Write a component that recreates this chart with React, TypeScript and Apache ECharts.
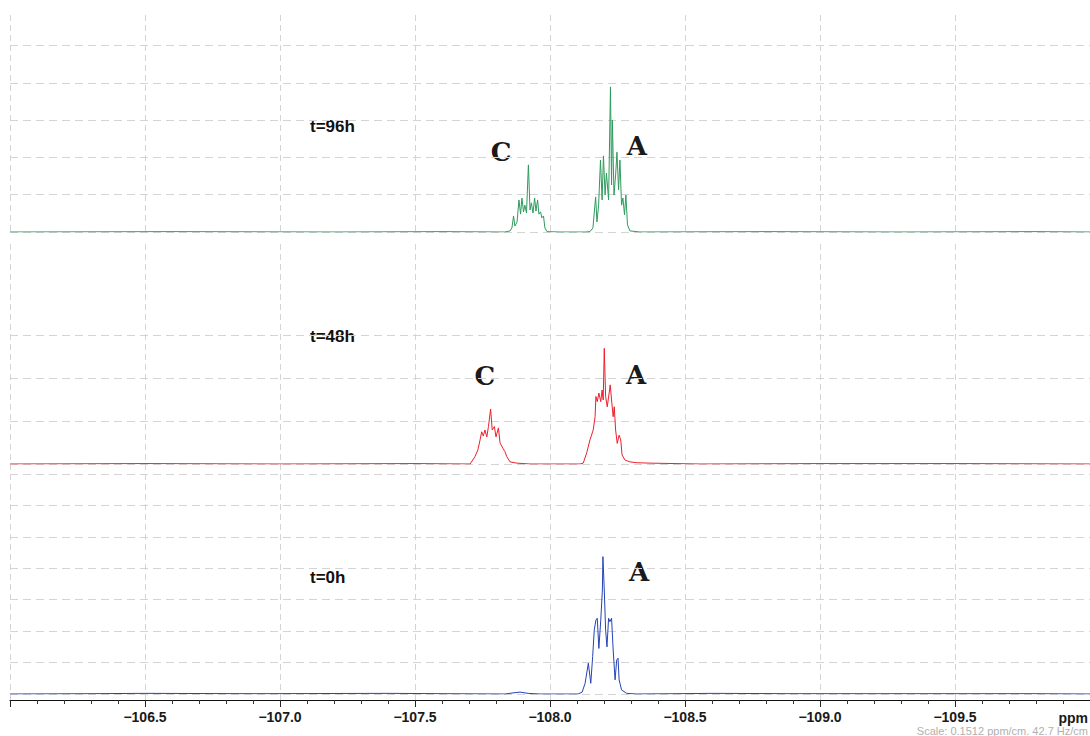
import React, { useEffect, useRef } from "react";
import * as echarts from "echarts";

// ppm range and tick settings
const PPM_LEFT = -106.0;
const PPM_RIGHT = -110.0;
const MAJOR_STEP = 0.5;

// Spectrum labels
const panelLabels = ["t=96h", "t=48h", "t=0h"];
const scaleNote = "Scale: 0.1512 ppm/cm. 42.7 Hz/cm";

// t=96h (green) : [ppm, intensity]
const green96: [number, number][] = [
  [-106.0, 0], [-106.6, 0.01], [-107.2, 0], [-107.6, 0.01], [-107.833, 0],
  [-107.852, 0.03], [-107.859, 0.11], [-107.865, 0.43], [-107.87, 0.16], [-107.878, 0.27],
  [-107.885, 0.86], [-107.891, 0.48], [-107.896, 0.91], [-107.902, 0.54], [-107.907, 0.72],
  [-107.913, 0.51], [-107.92, 1.8], [-107.926, 0.59], [-107.931, 0.78], [-107.937, 0.51],
  [-107.943, 0.91], [-107.948, 0.56], [-107.954, 0.86], [-107.959, 0.48], [-107.965, 0.54],
  [-107.97, 0.38], [-107.976, 0.43], [-107.981, 0.11], [-107.989, 0.01], [-108.037, 0],
  [-108.13, 0], [-108.148, 0.01], [-108.159, 0.11], [-108.169, 0.94], [-108.174, 0.27],
  [-108.18, 0.72], [-108.187, 1.93], [-108.193, 0.86], [-108.198, 2.04], [-108.204, 0.99],
  [-108.209, 1.58], [-108.217, 0.86], [-108.224, 3.89], [-108.228, 1.26], [-108.231, 3.0],
  [-108.237, 0.99], [-108.243, 1.53], [-108.248, 2.14], [-108.254, 1.13], [-108.259, 1.93],
  [-108.265, 0.72], [-108.27, 0.91], [-108.276, 0.46], [-108.281, 0.99], [-108.287, 0.19],
  [-108.296, 0.03], [-108.333, 0], [-108.8, 0.01], [-109.3, 0], [-109.8, 0.01], [-110.0, 0],
];

// t=48h (red)
const red48: [number, number][] = [
  [-106.0, 0], [-106.5, 0.01], [-107.0, 0], [-107.5, 0.01], [-107.704, 0],
  [-107.722, 0.17], [-107.733, 0.33], [-107.741, 0.56], [-107.747, 0.75], [-107.753, 0.65],
  [-107.759, 0.79], [-107.766, 0.63], [-107.772, 0.87], [-107.776, 1.07], [-107.78, 1.28],
  [-107.786, 0.79], [-107.794, 0.87], [-107.8, 0.63], [-107.809, 0.84], [-107.815, 0.49],
  [-107.825, 0.37], [-107.833, 0.29], [-107.84, 0.17], [-107.852, 0.05], [-107.877, 0.02],
  [-107.926, 0], [-108.111, 0], [-108.123, 0.02], [-108.136, 0.26], [-108.148, 0.56],
  [-108.16, 0.79], [-108.167, 1.1], [-108.17, 1.57], [-108.175, 1.45], [-108.181, 1.65],
  [-108.188, 1.45], [-108.193, 1.72], [-108.197, 1.49], [-108.201, 2.69], [-108.206, 1.57],
  [-108.212, 1.33], [-108.219, 1.65], [-108.223, 1.84], [-108.228, 1.49], [-108.234, 1.1],
  [-108.238, 1.33], [-108.243, 0.79], [-108.249, 0.48], [-108.256, 0.67], [-108.262, 0.56],
  [-108.267, 0.21], [-108.278, 0.09], [-108.296, 0.05], [-108.321, 0.03], [-108.37, 0.02],
  [-108.556, 0], [-109.0, 0.01], [-109.5, 0.01], [-110.0, 0],
];

// t=0h (blue)
const blue0: [number, number][] = [
  [-106.0, 0], [-106.3, 0.01], [-106.5, 0.02], [-106.9, 0.01], [-107.4, 0.02], [-107.833, 0],
  [-107.859, 0.03], [-107.889, 0.06], [-107.919, 0.02], [-107.963, 0], [-108.104, 0],
  [-108.119, 0.06], [-108.13, 0.34], [-108.142, 0.98], [-108.151, 0.34], [-108.158, 1.19],
  [-108.164, 2.04], [-108.17, 2.35], [-108.175, 2.41], [-108.181, 1.45], [-108.188, 2.35],
  [-108.194, 3.31], [-108.196, 4.37], [-108.201, 3.31], [-108.206, 2.04], [-108.211, 1.5],
  [-108.217, 2.41], [-108.222, 2.3], [-108.228, 2.41], [-108.234, 1.4], [-108.241, 0.45],
  [-108.247, 1.08], [-108.252, 1.14], [-108.256, 0.45], [-108.265, 0.13], [-108.284, 0.02],
  [-108.321, 0], [-108.6, 0.02], [-108.9, 0.01], [-109.3, 0.01], [-109.8, 0.01], [-110.0, 0],
];

// Peak labels: [panel index, label, ppm]
const peakLabels: [number, string, number][] = [
  [0, "C", -107.819],
  [0, "A", -108.322],
  [1, "C", -107.759],
  [1, "A", -108.319],
  [2, "A", -108.33],
];

const GRID_DASH = [6, 4];
const GRID_COLOR = "#d4d4d4";

export default function App() {
  const ref = useRef<HTMLDivElement>(null);
  useEffect(() => {
    document.body.style.margin = "0";
    if (!ref.current) return;
    const chart = echarts.init(ref.current, null, { renderer: "svg" });

    const fmt = (v: number) =>
      v === PPM_LEFT || v === PPM_RIGHT ? "" : v.toFixed(1).replace("-", "\u2212");

    const labelFont = "Liberation Sans";

    const hiddenX = (gridIndex: number) => ({
      type: "value", gridIndex, min: PPM_RIGHT, max: PPM_LEFT, inverse: true, show: false,
    });
    const vertX = (gridIndex: number, withAxis: boolean) => ({
      type: "value",
      gridIndex,
      min: PPM_RIGHT,
      max: PPM_LEFT,
      inverse: true,
      interval: MAJOR_STEP,
      axisLine: { show: withAxis, lineStyle: { color: "#111", width: 1.2 } },
      axisTick: { show: withAxis, length: 7, lineStyle: { color: "#222" } },
      minorTick: { show: withAxis, splitNumber: 5, length: 4, lineStyle: { color: "#333" } },
      axisLabel: {
        show: withAxis,
        formatter: fmt,
        showMinLabel: false,
        showMaxLabel: false,
        margin: 10,
        fontFamily: labelFont,
        fontWeight: "bold",
        fontSize: 14,
        color: "#1a1a1a",
      },
      splitLine: { show: true, lineStyle: { color: GRID_COLOR, type: GRID_DASH, width: 1 } },
    });
    const hiddenY = (gridIndex: number) => ({
      type: "value", gridIndex, min: 0, max: 1, show: false,
    });
    const panelY = (gridIndex: number, max: number) => ({
      type: "value",
      gridIndex,
      min: 0,
      max,
      interval: 1,
      axisLine: { show: false },
      axisTick: { show: false },
      axisLabel: { show: false },
      splitLine: { show: true, lineStyle: { color: GRID_COLOR, type: [8, 5], width: 1 } },
    });

    const panels = [
      { top: 45.5, height: 186.5, max: 5 },
      { top: 335, height: 129, max: 3 },
      { top: 474, height: 220, max: 7 },
    ];
    const textPos = [126, 336, 577];
    const peakY = [[152, 146], [376, 375], [572]];

    const toX = (ppm: number) => 10 + (PPM_LEFT - ppm) * 270;

    const graphics: any[] = [];
    panelLabels.forEach((t, i) => {
      graphics.push({
        type: "text",
        x: 310,
        y: textPos[i],
        style: {
          text: t, fill: "#111", fontFamily: labelFont, fontWeight: "bold", fontSize: 17,
          align: "left", verticalAlign: "middle",
        },
      });
    });
    const counters = [0, 0, 0];
    peakLabels.forEach(([p, l, ppm]) => {
      const y = peakY[p][counters[p]++];
      graphics.push({
        type: "text",
        x: toX(ppm),
        y,
        style: {
          text: l, fill: "#1a1a1a", fontFamily: "DejaVu Serif",
          fontWeight: "bold", fontSize: 26, align: "center", verticalAlign: "middle",
        },
      });
    });
    graphics.push({
      type: "text", x: 1088, y: 718,
      style: {
        text: "ppm", fill: "#1a1a1a", fontFamily: labelFont, fontWeight: "bold", fontSize: 14,
        align: "right", verticalAlign: "middle",
      },
    });
    graphics.push({
      type: "text", x: 1088, y: 731,
      style: {
        text: scaleNote, fill: "#b0b0b0", fontFamily: labelFont, fontSize: 11,
        align: "right", verticalAlign: "middle",
      },
    });

    const colors = ["#2f9a5e", "#ee1f2a", "#2544b4"];
    const datas = [green96, red48, blue0];

    chart.setOption({
      animation: false,
      backgroundColor: "#ffffff",
      grid: [
        { left: 10, right: 0, top: 15, height: 217 },
        { left: 10, right: 0, top: 244, height: 456 },
        ...panels.map((p) => ({ left: 10, right: 0, top: p.top, height: p.height })),
      ],
      xAxis: [vertX(0, false), vertX(1, true), hiddenX(2), hiddenX(3), hiddenX(4)],
      yAxis: [hiddenY(0), hiddenY(1), ...panels.map((p, i) => panelY(i + 2, p.max))],
      series: datas.map((d, i) => ({
        type: "line",
        xAxisIndex: i + 2,
        yAxisIndex: i + 2,
        data: d,
        showSymbol: false,
        symbol: "none",
        silent: true,
        lineStyle: { color: colors[i], width: 1 },
        z: 5,
      })),
      graphic: graphics,
    });
    return () => chart.dispose();
  }, []);
  return <div ref={ref} style={{ width: 1090, height: 736 }} />;
}
